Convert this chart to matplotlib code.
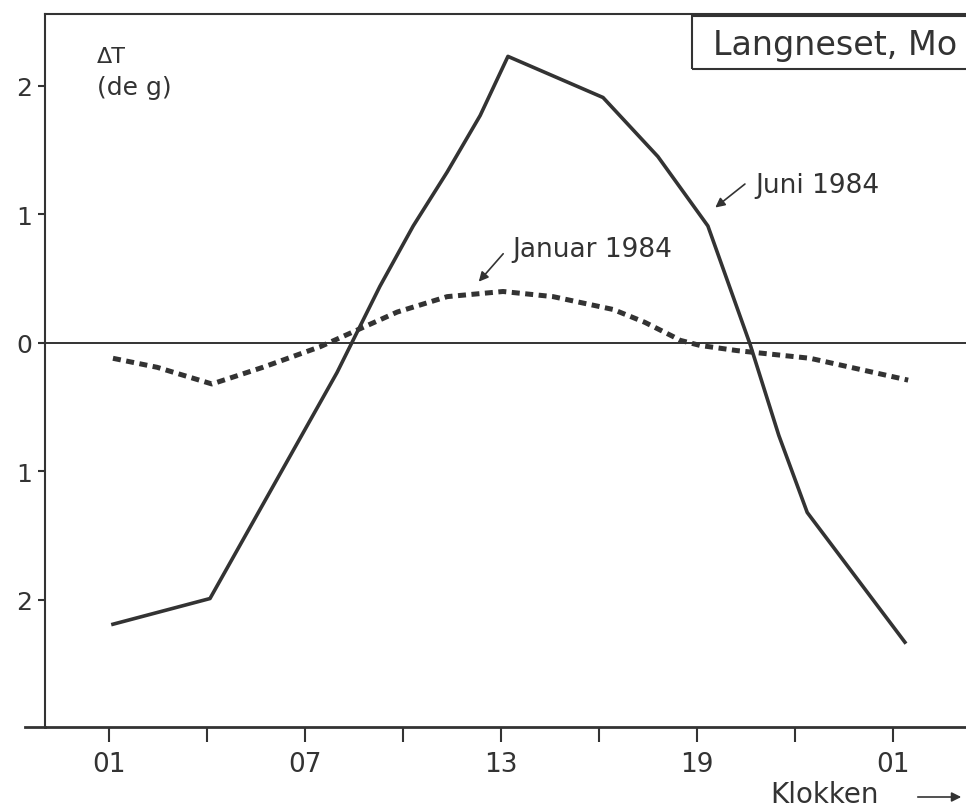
import matplotlib
matplotlib.use("Agg")
import matplotlib.pyplot as plt
from matplotlib.lines import Line2D
from matplotlib.patches import Rectangle, FancyArrowPatch

# temperature difference (deg) against time of day, hours counted from 00 (25 = 01 next day)
juni_hours = [1.12, 4.09, 7.98, 9.29, 10.31, 11.35, 12.36, 13.21, 16.12, 17.8, 19.33, 20.62, 21.5,
              22.37, 25.36]
juni_dt = [-2.19, -1.99, -0.23, 0.44, 0.91, 1.33, 1.77, 2.23, 1.91, 1.45, 0.91, -0.01, -0.72,
           -1.32, -2.33]

januar_hours = [1.12, 2.47, 4.15, 5.71, 7.46, 9.82, 11.35, 13.06, 14.59, 16.43, 17.4, 18.26, 18.48,
                19.09, 20.22, 22.46, 25.46]
januar_dt = [-0.12, -0.19, -0.32, -0.19, -0.03, 0.24, 0.36, 0.40, 0.36, 0.26, 0.16, 0.05, 0.02,
             -0.02, -0.06, -0.12, -0.29]

tick_hours = [1, 4, 7, 10, 13, 16, 19, 22, 25]
tick_labels = ["01", "", "07", "", "13", "", "19", "", "01"]
ytick_vals = [2, 1, 0, -1, -2]
ytick_labels = ["2", "1", "0", "1", "2"]

ink = "#333333"
W, H = 966, 812

fig = plt.figure(figsize=(W / 100, H / 100), dpi=100)
ax = fig.add_axes([45 / W, (H - 728) / H, 1 - 45 / W, (728 - 15) / H])

ax.set_xlim(-0.96, 27.23)
ax.set_ylim(-2.99, 2.56)

ax.axhline(0, color=ink, lw=1.4)
ax.plot(juni_hours, juni_dt, color=ink, lw=2.6, solid_joinstyle="round")
ax.plot(januar_hours, januar_dt, color=ink, lw=3.6, linestyle=(0, (1.6, 1.1)),
        dash_capstyle="butt")

ax.set_xticks(tick_hours)
ax.set_xticklabels(tick_labels, fontsize=19, color=ink)
ax.set_yticks(ytick_vals)
ax.set_yticklabels(ytick_labels, fontsize=18, color=ink)
ax.tick_params(axis="x", direction="out", length=11, width=1.5, pad=6, color=ink)
ax.tick_params(axis="y", direction="out", length=5, width=1.5, pad=4, color=ink)

ax.spines["right"].set_visible(False)
for side in ["left", "top"]:
    ax.spines[side].set_color(ink)
    ax.spines[side].set_linewidth(1.5)
ax.spines["bottom"].set_color(ink)
ax.spines["bottom"].set_linewidth(2)

# bottom axis runs a little past the left axis
fig.add_artist(Line2D([25 / W, 45 / W], [(H - 728) / H] * 2, color=ink, lw=2))

ax.text(0.63, 2.19, "ΔT", fontsize=16, color=ink)
ax.text(0.63, 1.94, "(de g)", fontsize=18, color=ink)

arrow = dict(arrowstyle="-|>", color=ink, lw=1.2, mutation_scale=14)
ax.text(20.77, 1.175, "Juni 1984", fontsize=19, color=ink)
ax.annotate("", xy=(19.49, 1.04), xytext=(20.53, 1.25), arrowprops=arrow)
ax.text(13.34, 0.68, "Januar 1984", fontsize=19, color=ink)
ax.annotate("", xy=(12.26, 0.46), xytext=(13.12, 0.71), arrowprops=arrow)

# station box in the top right corner
fig.add_artist(Rectangle((692 / W, (H - 70) / H), 300 / W, 53 / H, transform=fig.transFigure,
                         fill=False, edgecolor=ink, lw=1.5))
fig.text(713 / W, (H - 55) / H, "Langneset, Mo", fontsize=24, color=ink, va="baseline")

fig.text(770 / W, (H - 803) / H, "Klokken", fontsize=20, color=ink, va="baseline")
fig.add_artist(FancyArrowPatch((915 / W, (H - 798) / H), (964 / W, (H - 798) / H),
                               transform=fig.transFigure, arrowstyle="-|>",
                               mutation_scale=14, color=ink, lw=1.2))

fig.savefig("out.png", dpi=100, facecolor="white")
